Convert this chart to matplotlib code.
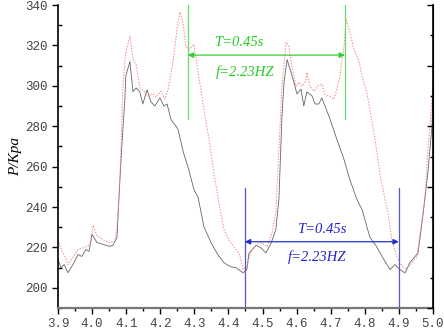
import matplotlib
matplotlib.use("Agg")
import matplotlib.pyplot as plt
from matplotlib.ticker import MultipleLocator

t_meas = [3.900, 3.909, 3.918, 3.929, 3.944, 3.959, 3.970, 3.982, 3.991, 4.000,
          4.014, 4.032, 4.052, 4.061, 4.073, 4.079, 4.085, 4.091, 4.096, 4.099,
          4.111, 4.120, 4.129, 4.140, 4.149, 4.161, 4.173, 4.184, 4.199, 4.211,
          4.220, 4.231, 4.246, 4.252, 4.267, 4.281, 4.299, 4.311, 4.328, 4.349,
          4.369, 4.387, 4.407, 4.422, 4.443, 4.454, 4.460, 4.481, 4.495, 4.510,
          4.525, 4.539, 4.548, 4.557, 4.563, 4.572, 4.583, 4.592, 4.601, 4.613,
          4.621, 4.630, 4.645, 4.654, 4.665, 4.674, 4.683, 4.698, 4.718, 4.739,
          4.756, 4.777, 4.792, 4.806, 4.815, 4.835, 4.853, 4.874, 4.888, 4.903,
          4.918, 4.932, 4.947, 4.956, 4.970, 4.985, 4.997, 5.000]
p_meas = [214, 210, 211.5, 207.5, 211.5, 216.5, 215.5, 219, 218, 226.5,
          222.5, 221.5, 220.5, 221, 225, 245, 263.5, 280, 293, 305,
          312, 297, 299, 297, 291, 298, 292, 290, 294, 290,
          291, 283.5, 280, 278.5, 267.5, 260, 248.6, 244.7, 230.3, 222.3,
          216.4, 212.4, 210.4, 210, 207.4, 209, 217, 221, 219.8, 217.3,
          222, 228.8, 243.7, 285, 301.7, 313, 307, 301.7, 296, 298.3,
          290, 297, 295, 291, 291, 294, 290, 283.5, 273.5, 263.5,
          253.6, 243.7, 238.7, 230.3, 225, 220.3, 214.8, 209, 211.5, 209,
          207.4, 212.4, 215.4, 217.3, 235.2, 257, 280, 300]

t_ref = [3.900, 3.912, 3.921, 3.929, 3.944, 3.959, 3.979, 3.994, 4.003, 4.014,
         4.032, 4.052, 4.067, 4.073, 4.079, 4.085, 4.091, 4.099, 4.111, 4.120,
         4.129, 4.140, 4.152, 4.164, 4.179, 4.187, 4.202, 4.214, 4.223, 4.237,
         4.252, 4.258, 4.267, 4.275, 4.284, 4.299, 4.313, 4.328, 4.343, 4.357,
         4.372, 4.387, 4.401, 4.416, 4.431, 4.443, 4.454, 4.466, 4.481, 4.498,
         4.513, 4.528, 4.539, 4.548, 4.557, 4.569, 4.577, 4.586, 4.598, 4.607,
         4.616, 4.627, 4.630, 4.639, 4.651, 4.662, 4.674, 4.683, 4.698, 4.709,
         4.718, 4.727, 4.739, 4.745, 4.756, 4.768, 4.783, 4.792, 4.806, 4.815,
         4.830, 4.844, 4.859, 4.868, 4.879, 4.894, 4.903, 4.912, 4.923, 4.938,
         4.953, 4.962, 4.976, 4.985, 4.997, 5.000]
p_ref = [223.8, 218, 215.4, 211.5, 215, 219, 220, 221.5, 231, 226,
         223.8, 222.3, 223, 230, 245, 270, 301.7, 316.6, 324.6, 313,
         310.7, 299, 297.3, 295, 296, 294.3, 297.3, 293.3, 298.3, 311.6,
         331.5, 336.5, 331, 319.6, 318, 320.6, 304.7, 288.4, 273.5, 257,
         242.2, 228.8, 223.8, 220.3, 217.3, 209, 210.4, 217.9, 221.3, 222.3,
         220.3, 227.3, 237.2, 268.5, 299.8, 321.6, 319.6, 309.7, 299.8, 301.7,
         299.8, 302.3, 306.7, 299.8, 297.3, 300, 300.8, 295.8, 294.8, 293.3,
         298.3, 304.7, 319.6, 333, 326.6, 318, 312.2, 304.7, 296.8, 288,
         273.5, 257, 243.7, 237.2, 223.8, 215.4, 212.4, 210.4, 209, 212.4,
         215.4, 227, 243.7, 268.5, 293.3, 305]

# period markers
green_x = [4.281, 4.742]
green_y = 315.2
blue_x = [4.448, 4.900]
blue_y = 222.8
period_text = "T=0.45s"
freq_text = "f=2.23HZ"

fig = plt.figure(figsize=(4.44, 3.29), dpi=100)
ax = fig.add_axes([0.1306, 0.0638, 0.8446, 0.921])

ax.plot(t_meas, p_meas, color="#666666", linewidth=0.6)
ax.plot(t_ref, p_ref, color="#f08888", linewidth=0.7, linestyle=(0, (1.5, 1.5)))

gl = "#66dd66"
for x in green_x:
    ax.plot([x, x], [340, 283.4], color=gl, linewidth=0.9)
ax.annotate("", xy=(green_x[0], green_y), xytext=(green_x[1], green_y),
            arrowprops=dict(arrowstyle="<|-|>", color="#33cc33", lw=0.9,
                            shrinkA=0, shrinkB=0, mutation_scale=8))
ax.text(4.431, 321.6, period_text, color="#22cc22", fontsize=10.5, style="italic",
        family="Liberation Serif", ha="center", va="center")
ax.text(4.448, 306.7, freq_text, color="#22cc22", fontsize=10.5, style="italic",
        family="Liberation Serif", ha="center", va="center")

bl = "#5555cc"
for x in blue_x:
    ax.plot([x, x], [190, 249.6], color=bl, linewidth=0.9)
ax.annotate("", xy=(blue_x[0], blue_y), xytext=(blue_x[1], blue_y),
            arrowprops=dict(arrowstyle="<|-|>", color="#2233cc", lw=0.9,
                            shrinkA=0, shrinkB=0, mutation_scale=8))
ax.text(4.674, 228.8, period_text, color="#2222cc", fontsize=10.5, style="italic",
        family="Liberation Serif", ha="center", va="center")
ax.text(4.66, 215.0, freq_text, color="#2222cc", fontsize=10.5, style="italic",
        family="Liberation Serif", ha="center", va="center")

ax.set_xlim(3.9, 5.0)
ax.set_ylim(190, 340)
ax.xaxis.set_major_locator(MultipleLocator(0.1))
ax.xaxis.set_minor_locator(MultipleLocator(0.05))
ax.yaxis.set_minor_locator(MultipleLocator(10))
ax.set_yticks([200, 220, 240, 260, 280, 300, 320, 340])
ax.tick_params(axis="x", which="major", direction="out", length=4, width=1)
ax.tick_params(axis="x", which="minor", direction="out", length=2.5, width=1)
ax.tick_params(axis="y", which="major", direction="out", length=4, width=1)
ax.tick_params(axis="y", which="minor", direction="in", length=3, width=1)
for lab in ax.get_xticklabels() + ax.get_yticklabels():
    lab.set_family("Liberation Mono")
    lab.set_fontsize(9)
    lab.set_color("#444444")

ax.spines["top"].set_visible(False)
ax.spines["bottom"].set_color("#777777")
ax.spines["bottom"].set_linewidth(1.6)
ax.spines["left"].set_linewidth(1.2)

ax.set_ylabel("P/Kpa", fontsize=11, style="italic", family="Liberation Serif")
ax.yaxis.set_label_coords(-0.097, 0.5)

ax2 = ax.twinx()
ax2.set_ylim(0, 10)
ax2.yaxis.set_major_locator(MultipleLocator(2))
ax2.yaxis.set_minor_locator(MultipleLocator(1))
ax2.tick_params(axis="y", which="major", direction="in", length=4, width=1, labelright=False)
ax2.tick_params(axis="y", which="minor", direction="in", length=2.5, width=1)
ax2.spines["top"].set_visible(False)
ax2.spines["bottom"].set_visible(False)
ax2.spines["left"].set_visible(False)
ax2.spines["right"].set_linewidth(1.2)

fig.savefig("out.png", dpi=100)
